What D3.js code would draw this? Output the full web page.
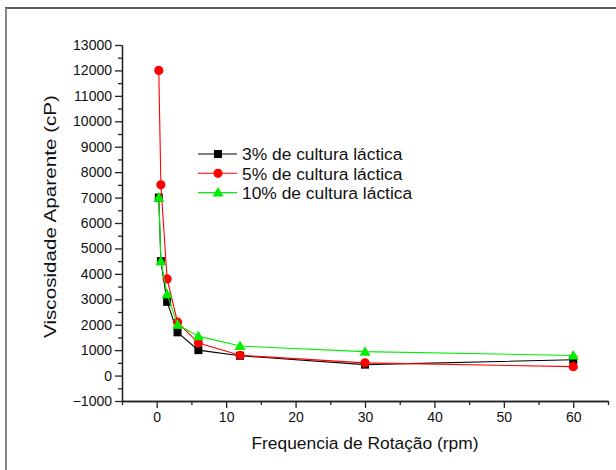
<!DOCTYPE html>
<html><head><meta charset="utf-8">
<script src="https://cdn.jsdelivr.net/npm/d3@7/dist/d3.min.js"></script>
<style>body{margin:0;background:#fff}svg{display:block;font-family:"Liberation Sans",Arial,sans-serif}</style>
</head><body>
<svg id="c" width="616" height="470"></svg>
<script>
const rpm = [0.3, 0.6, 1.5, 3, 6, 12, 30, 60];
const cult3 = [7000, 4500, 2900, 1700, 1000, 780, 430, 620];
const cult5 = [12000, 7500, 3800, 2100, 1280, 800, 500, 350];
const cult10 = [7000, 4500, 3200, 2000, 1550, 1160, 940, 790];
const seriesNames = ["3% de cultura láctica", "5% de cultura láctica", "10% de cultura láctica"];
const seriesColors = ["#000000", "#ff0000", "#00ee00"];
const xMajor = [0, 10, 20, 30, 40, 50, 60];
const xMinor = [-5, 5, 15, 25, 35, 45, 55, 65];
const yMajor = d3.range(-1000, 13001, 1000);
const yMinor = d3.range(-500, 13000, 1000);
const xTitle = "Frequencia de Rotação (rpm)";
const yTitle = "Viscosidade Aparente (cP)";

const FONT = "'Liberation Sans', Arial, sans-serif";
const svg = d3.select("#c");
const x = d3.scaleLinear().domain([-5, 65]).range([122, 608]);
const y = d3.scaleLinear().domain([-1000, 13000]).range([401, 45]);

// frame (partial border)
svg.append("line").attr("x1", 5).attr("x2", 616).attr("y1", 8).attr("y2", 8).attr("stroke", "#222").attr("stroke-width", 1.5);
svg.append("line").attr("x1", 6).attr("x2", 6).attr("y1", 8).attr("y2", 470).attr("stroke", "#888").attr("stroke-width", 2);

// axes
const xa = svg.append("g").attr("transform", "translate(0,401)");
xa.call(d3.axisBottom(x).tickValues(xMajor).tickSize(7).tickSizeOuter(0).tickPadding(4).tickFormat(d3.format("d")));
xa.append("g").call(d3.axisBottom(x).tickValues(xMinor).tickSize(4).tickSizeOuter(0).tickFormat(""));
const ya = svg.append("g").attr("transform", "translate(122,0)");
ya.call(d3.axisLeft(y).tickValues(yMajor).tickSize(7).tickSizeOuter(0).tickPadding(3).tickFormat(d3.format("d")));
ya.append("g").call(d3.axisLeft(y).tickValues(yMinor).tickSize(4).tickSizeOuter(0).tickFormat(""));
svg.selectAll("g").attr("font-family", FONT);
svg.selectAll(".domain").attr("stroke", "#222").attr("stroke-width", 1.3);
svg.selectAll(".tick line").attr("stroke", "#222").attr("stroke-width", 1.3);
svg.selectAll(".tick text").attr("font-size", 14).attr("fill", "#111").attr("font-family", FONT);

svg.append("text").attr("x", 365).attr("y", 449).attr("text-anchor", "middle").attr("font-family", FONT).attr("font-size", 17.4).attr("fill", "#111").text(xTitle);
svg.append("text").attr("transform", "translate(55.5,216.5) rotate(-90)").attr("text-anchor", "middle").attr("font-family", FONT).attr("font-size", 17.4)
  .attr("textLength", 243).attr("lengthAdjust", "spacingAndGlyphs").attr("fill", "#111").text(yTitle);

function marker(g, kind, cx, cy, color) {
  if (kind === 0) g.append("rect").attr("x", cx - 4).attr("y", cy - 4).attr("width", 8).attr("height", 8).attr("fill", color);
  else if (kind === 1) g.append("circle").attr("cx", cx).attr("cy", cy).attr("r", 4.6).attr("fill", color);
  else g.append("path").attr("d", `M${cx},${cy - 5.5}L${cx + 5.5},${cy + 4}L${cx - 5.5},${cy + 4}Z`).attr("fill", color);
}

const data = [cult3, cult5, cult10];
const line = d3.line().x((d, i) => x(rpm[i])).y(d => y(d));
data.forEach((vals, k) => {
  const g = svg.append("g");
  g.append("path").attr("d", line(vals)).attr("fill", "none").attr("stroke", seriesColors[k]).attr("stroke-width", 1.1);
  vals.forEach((v, i) => marker(g, k, x(rpm[i]), y(v), seriesColors[k]));
});

// legend
seriesNames.forEach((name, k) => {
  const ly = 154 + k * 19.3;
  const g = svg.append("g");
  g.append("line").attr("x1", 198).attr("x2", 237).attr("y1", ly).attr("y2", ly).attr("stroke", seriesColors[k]).attr("stroke-width", 1.1);
  marker(g, k, 218, ly, seriesColors[k]);
  g.append("text").attr("x", 242).attr("y", ly + 6.2).attr("font-family", FONT).attr("font-size", 17.4).attr("fill", "#111").text(name);
});
</script>
</body></html>
